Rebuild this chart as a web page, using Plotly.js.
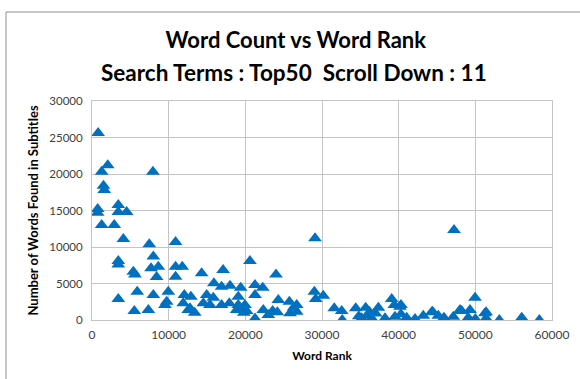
<!DOCTYPE html>
<html>
<head>
<meta charset="utf-8">
<script src="https://cdn.plot.ly/plotly-3.0.1.min.js"></script>
<style>
  html, body { margin: 0; padding: 0; background: #ffffff; }
  #chart { width: 580px; height: 379px; }
</style>
</head>
<body>
<div id="chart"></div>
<script>
// Word rank (x) and how many times each word was found in subtitles (y)
const wordRank = [
  800, 2050, 1260, 7950, 1500, 1600, 740, 740, 3430, 3430,
  4520, 1260, 2900, 4090, 7470, 10900, 3430, 3430, 5390, 5600,
  8000, 7700, 8650, 8430, 10900, 11770, 10900, 3430, 5900, 8000,
  5520, 7350, 9950, 9740, 9520, 12040, 11900, 12900, 12560, 20600,
  14300, 17100, 24000, 15900, 16900, 18000, 19400, 21260, 22270, 21260,
  14960, 15820, 14520, 15390, 16900, 17910, 19080, 19080, 19950, 19300,
  18870, 20170, 21260, 22340, 23560, 24300, 24170, 25740, 26700, 25830,
  12780, 29090, 29000, 29180, 30170, 26700, 31600, 32570, 32640, 34400,
  35700, 35180, 36480, 37350, 38220, 39090, 39430, 40300, 39520, 40300,
  47220, 49960, 51400, 51400, 53130, 56050, 58350, 40170, 41040, 42130,
  43210, 44300, 45170, 45910, 47130, 48220, 49300, 49080, 50000, 36000,
  37000, 44430, 48000, 51260, 23000, 26300, 34800, 36200, 13400, 19800
];
const wordCount = [
  25600, 21200, 20300, 20300, 18400, 17800, 15200, 14700, 15750, 14800,
  14800, 13000, 13000, 11100, 10370, 10700, 8080, 7600, 6600, 6250,
  8700, 7100, 7300, 5900, 7300, 7300, 5930, 2880, 3880, 3430,
  1230, 1370, 3880, 2500, 2050, 3430, 2280, 3200, 1370, 8080,
  6400, 6850, 6250, 5030, 4570, 4700, 4430, 4800, 4430, 3430,
  3430, 3060, 2280, 2060, 2050, 2280, 3200, 2050, 2050, 1370,
  1370, 1230, 200, 1370, 1230, 2740, 1050, 2500, 2050, 920,
  1600, 11190, 3880, 2880, 3330, 1140, 1600, 1230, 0, 1600,
  1690, 230, 230, 1690, 230, 2880, 2050, 2050, 460, 780,
  12330, 3060, 1050, 230, 0, 320, 0, 1820, 320, 140,
  590, 1050, 590, 320, 460, 1230, 1370, 320, 140, 600,
  900, 1140, 1370, 920, 700, 1700, 500, 1100, 1000, 1000
];

const chartTitle = 'Word Count vs Word Rank';
const chartSubtitle = 'Search Terms : Top50  Scroll Down : 11';
const xTitle = 'Word Rank';
const yTitle = 'Number of Words Found in Subtitles';

const FONT = 'Lato, "Open Sans", "DejaVu Sans", sans-serif';
const GRID = '#c4c4c4';

const trace = {
  type: 'scatter',
  mode: 'markers',
  x: wordRank,
  y: wordCount,
  marker: { symbol: 'triangle-up', size: 12, color: '#0070c0', line: { width: 0 } },
  hoverinfo: 'x+y'
};

const layout = {
  width: 580,
  height: 379,
  margin: { l: 92, r: 28, t: 101, b: 59 },
  paper_bgcolor: '#ffffff',
  plot_bgcolor: '#ffffff',
  showlegend: false,
  font: { family: FONT, color: '#404040', size: 12 },
  title: {
    text: '<b>' + chartTitle + '</b>',
    font: { family: FONT, size: 22, color: '#000000' },
    x: 0.51, xanchor: 'center',
    yref: 'container', y: 1 - 40 / 379, yanchor: 'middle'
  },
  xaxis: {
    range: [0, 60000],
    dtick: 10000,
    tickformat: 'd',
    showgrid: true, gridcolor: GRID, gridwidth: 1,
    zeroline: false,
    showline: true, linecolor: GRID, linewidth: 1, mirror: true,
    ticks: '',
    ticklabelstandoff: 4,
    tickfont: { family: FONT, size: 12, color: '#404040' },
    automargin: false,
    title: {
      text: '<b>' + xTitle + '</b>',
      font: { family: FONT, size: 12, color: '#000000' },
      standoff: 10
    }
  },
  yaxis: {
    range: [0, 30000],
    dtick: 5000,
    tickformat: 'd',
    showgrid: true, gridcolor: GRID, gridwidth: 1,
    zeroline: false,
    showline: true, linecolor: GRID, linewidth: 1, mirror: true,
    ticks: '',
    ticklabelstandoff: 6,
    tickfont: { family: FONT, size: 11.5, color: '#404040' },
    automargin: false,
    title: {
      text: '<b>' + yTitle + '</b>',
      font: { family: FONT, size: 13, color: '#000000' },
      standoff: 7
    }
  },
  annotations: [
    {
      text: '<b>' + chartSubtitle + '</b>',
      xref: 'paper', yref: 'paper',
      x: (294 - 92) / 460, y: (320 - 72) / 219,
      xanchor: 'center', yanchor: 'middle',
      showarrow: false,
      font: { family: FONT, size: 22.5, color: '#000000' }
    }
  ],
  shapes: [
    // outer chart frame (left and top edges)
    {
      type: 'rect', xref: 'paper', yref: 'paper',
      x0: (6 - 92) / 460, x1: (600 - 92) / 460,
      y0: (320 - 400) / 219, y1: (320 - 12) / 219,
      line: { color: '#8c8c8c', width: 1 },
      fillcolor: 'rgba(0,0,0,0)', layer: 'below'
    }
  ]
};

Plotly.newPlot('chart', [trace], layout, { displayModeBar: false, staticPlot: true });
</script>
</body>
</html>
